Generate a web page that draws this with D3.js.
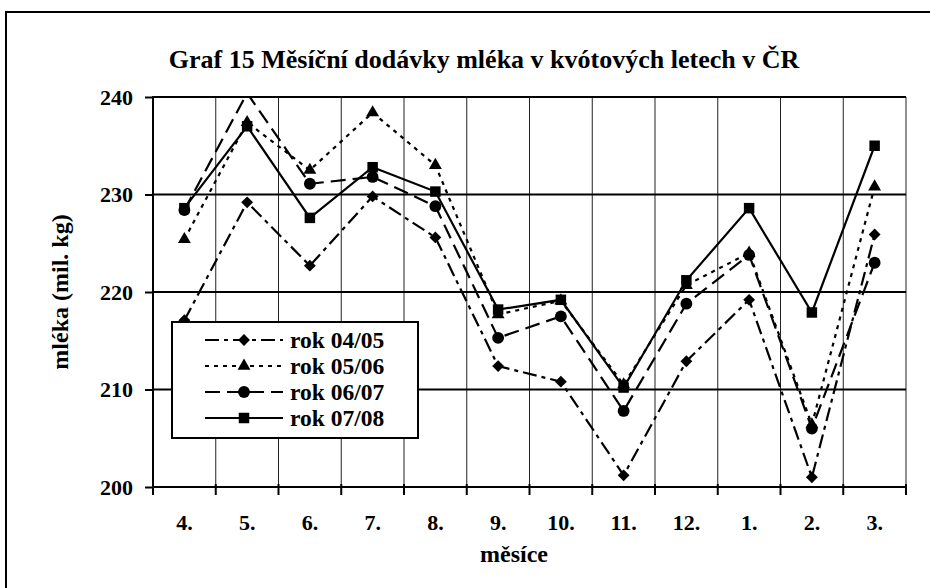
<!DOCTYPE html>
<html>
<head>
<meta charset="utf-8">
<script src="https://cdn.jsdelivr.net/npm/d3@7"></script>
<style>
    body { margin: 0; background: #fff; }
    text { font-family: "Liberation Serif", "Times New Roman", serif; font-weight: bold; fill: #000; }
</style>
</head>
<body>
<div id="chart"></div>
<script>
// data (mil. kg)
const months = ["4.", "5.", "6.", "7.", "8.", "9.", "10.", "11.", "12.", "1.", "2.", "3."];
const seriesNames = ["rok 04/05", "rok 05/06", "rok 06/07", "rok 07/08"];
const rok0405 = [217.1, 229.2, 222.7, 229.8, 225.6, 212.4, 210.8, 201.2, 212.9, 219.2, 201.0, 225.9];
const rok0506 = [225.4, 237.4, 232.5, 238.4, 233.0, 217.7, 219.1, 210.5, 220.7, 224.0, 206.4, 230.8];
const rok0607 = [228.4, 240.4, 231.1, 231.8, 228.8, 215.3, 217.5, 207.8, 218.8, 223.8, 206.0, 223.0];
const rok0708 = [228.6, 237.0, 227.6, 232.8, 230.3, 218.2, 219.2, 210.2, 221.2, 228.6, 217.9, 235.0];
const yTicks = [200, 210, 220, 230, 240];

const W = 930, H = 588;
let margin = {top: 97, right: 24, bottom: 101, left: 153},
    width = W - margin.left - margin.right,
    height = H - margin.top - margin.bottom;

let svg = d3.select("#chart").append("svg")
    .attr("width", W)
    .attr("height", H);

// outer frame (runs off the right/bottom edge like the original)
svg.append("rect")
    .attr("x", 6).attr("y", 12)
    .attr("width", 1000).attr("height", 1000)
    .style("fill", "none")
    .style("stroke", "#000")
    .style("stroke-width", 2);

svg.append("text")
    .attr("x", 484)
    .attr("y", 68)
    .attr("text-anchor", "middle")
    .style("font-size", "26px")
    .text("Graf 15 Měsíční dodávky mléka v kvótových letech v ČR");

let g = svg.append("g")
    .attr("transform", "translate(" + margin.left + "," + margin.top + ")");

let x = d3.scaleBand()
    .domain(months)
    .range([0, width]);

let y = d3.scaleLinear()
    .domain([200, 240])
    .range([height, 0]);

//Vertical gridlines at category edges
let edges = months.map(m => x(m)).concat([width]);
g.append("g").selectAll("line")
    .data(edges.slice(1))
    .enter().append("line")
    .attr("x1", d => d).attr("x2", d => d)
    .attr("y1", 0).attr("y2", height)
    .style("stroke", "#222")
    .style("stroke-width", 1);

//Horizontal gridlines
g.append("g").selectAll("line")
    .data(yTicks.slice(1))
    .enter().append("line")
    .attr("x1", 0).attr("x2", width)
    .attr("y1", d => y(d)).attr("y2", d => y(d))
    .style("stroke", "#000")
    .style("stroke-width", 2);

//Y axis
let yAxis = d3.axisLeft(y).tickValues(yTicks).tickSize(8).tickPadding(12);
let ya = g.append("g").call(yAxis);
ya.select(".domain").remove();
ya.append("line").attr("x1", 0).attr("x2", 0).attr("y1", -1).attr("y2", height + 1)
    .style("stroke", "#000").style("stroke-width", 2);
ya.selectAll(".tick line").style("stroke", "#000").style("stroke-width", 2);
ya.selectAll(".tick text").style("font-size", "22px").attr("dy", "0.33em")
    .style("font-family", "Liberation Serif").style("font-weight", "bold");

//X axis - ticks on category edges
let xa = g.append("g").attr("transform", "translate(0," + height + ")");
xa.append("line").attr("x1", 0).attr("x2", width)
    .style("stroke", "#000").style("stroke-width", 2);
xa.selectAll(".edge")
    .data(edges)
    .enter().append("line")
    .attr("class", "edge")
    .attr("x1", d => d).attr("x2", d => d)
    .attr("y1", -3).attr("y2", 8)
    .style("stroke", "#000").style("stroke-width", 2);
xa.selectAll(".lbl")
    .data(months)
    .enter().append("text")
    .attr("class", "lbl")
    .attr("x", d => x(d) + x.bandwidth() / 2)
    .attr("y", 43)
    .attr("text-anchor", "middle")
    .style("font-size", "22px")
    .text(d => d);

svg.append("text")
    .attr("x", 514)
    .attr("y", 562)
    .attr("text-anchor", "middle")
    .style("font-size", "24px")
    .text("měsíce");

svg.append("text")
    .attr("transform", "translate(68," + (margin.top + height / 2) + ") rotate(-90)")
    .attr("text-anchor", "middle")
    .style("font-size", "24px")
    .text("mléka (mil. kg)");

//Series
let series = [
    {name: seriesNames[0], values: rok0405, dash: "14,5,4,5", symbol: "diamond"},
    {name: seriesNames[1], values: rok0506, dash: "4,5", symbol: "triangle"},
    {name: seriesNames[2], values: rok0607, dash: "15,7", symbol: "circle"},
    {name: seriesNames[3], values: rok0708, dash: null, symbol: "square"}
];

const symbolPath = (type) => {
    if (type === "diamond") return d3.symbol().type(d3.symbolSquare).size(70)();
    if (type === "triangle") return d3.symbol().type(d3.symbolTriangle).size(72)();
    if (type === "circle") return d3.symbol().type(d3.symbolCircle).size(110)();
    return d3.symbol().type(d3.symbolSquare).size(110)();
};
const symbolRotate = (type) => type === "diamond" ? " rotate(45)" : "";

svg.append("clipPath").attr("id", "plotclip")
    .append("rect").attr("x", -2).attr("y", -1).attr("width", width + 4).attr("height", height + 2);

let cx = (i) => x(months[i]) + x.bandwidth() / 2;
let line = d3.line()
    .x((d, i) => cx(i))
    .y(d => y(d));

let sg = g.selectAll(".series")
    .data(series)
    .enter().append("g")
    .attr("class", "series")
    .attr("clip-path", "url(#plotclip)");

sg.append("path")
    .attr("d", d => line(d.values))
    .style("fill", "none")
    .style("stroke", "#000")
    .style("stroke-width", 2.2)
    .style("stroke-dasharray", d => d.dash);

sg.each(function(s) {
    d3.select(this).selectAll(".mk")
        .data(s.values.map((v, i) => ({v: v, i: i})).filter(p => p.v <= 240))
        .enter().append("path")
        .attr("class", "mk")
        .attr("d", symbolPath(s.symbol))
        .attr("transform", p => "translate(" + cx(p.i) + "," + y(p.v) + ")" + symbolRotate(s.symbol))
        .style("fill", "#000");
});

//Legend
let lg = svg.append("g").attr("transform", "translate(172,322)");
lg.append("rect")
    .attr("width", 246).attr("height", 116)
    .style("fill", "#fff")
    .style("stroke", "#000")
    .style("stroke-width", 2);

let items = lg.selectAll(".legend")
    .data(series)
    .enter().append("g")
    .attr("class", "legend")
    .attr("transform", (d, i) => "translate(0," + (18 + i * 26) + ")");

items.append("line")
    .attr("x1", 33).attr("x2", 111)
    .style("stroke", "#000")
    .style("stroke-width", 2.2)
    .style("stroke-dasharray", d => d.dash);

items.append("path")
    .attr("d", d => symbolPath(d.symbol))
    .attr("transform", d => "translate(72,0)" + symbolRotate(d.symbol))
    .style("fill", "#000");

items.append("text")
    .attr("x", 118)
    .attr("y", 8)
    .style("font-size", "23.5px")
    .text(d => d.name);
</script>
</body>
</html>
